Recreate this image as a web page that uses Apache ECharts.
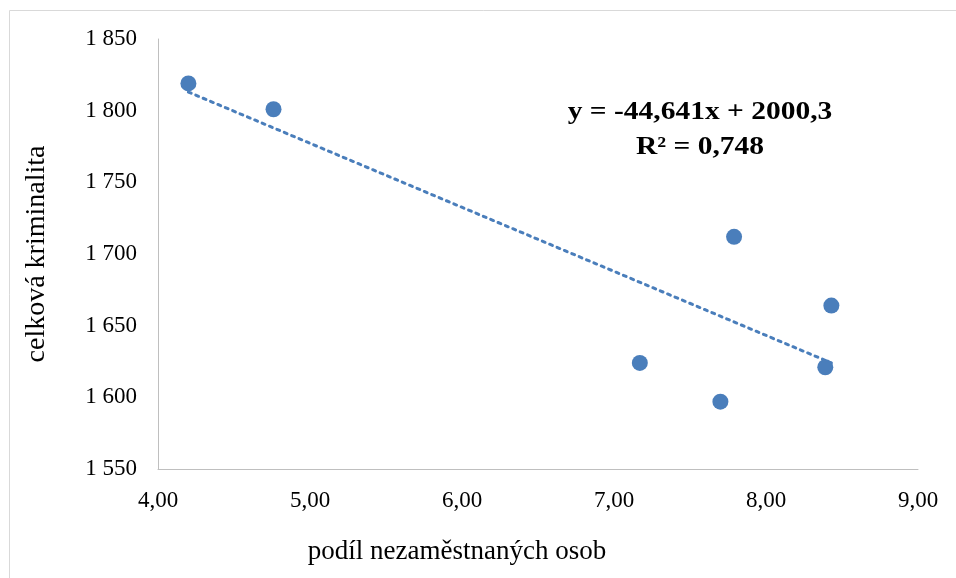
<!DOCTYPE html>
<html><head><meta charset="utf-8">
<script src="https://cdn.jsdelivr.net/npm/echarts@6/dist/echarts.min.js"></script>
<style>html,body{margin:0;padding:0;background:#fff}#c{width:956px;height:578px}</style>
</head><body><div id="c"></div>
<script>
const unemployment = [4.20, 4.76, 7.79, 8.43, 7.17, 8.39, 7.70];
const crime = [1819, 1801, 1712, 1664, 1624, 1621, 1597];
const trendX = [4.20, 8.43];
const trendY = [1813, 1624];
const xTicks = [4, 5, 6, 7, 8, 9];
const yTicks = [1550, 1600, 1650, 1700, 1750, 1800, 1850];
const equationText = 'y = -44,641x + 2000,3';
const r2Text = 'R² = 0,748';
const xTitle = 'podíl nezaměstnaných osob';
const yTitle = 'celková kriminalita';

const font = 'Liberation Serif, Times New Roman, serif';
const chart = echarts.init(document.getElementById('c'));
const pts = unemployment.map((v, i) => [v, crime[i]]);
const trend = trendX.map((v, i) => [v, trendY[i]]);
chart.setOption({
  animation: false,
  graphic: [
    {type: 'rect', shape: {x: 9.5, y: 10.5, width: 1000, height: 700}, style: {fill: 'none', stroke: '#d9d9d9', lineWidth: 1}},
    {type: 'text', x: 700, y: 130, scaleX: 1.18, originX: 0, originY: 0,
      style: {text: equationText + '\n' + r2Text, font: 'bold 25px ' + font, fill: '#000',
        align: 'center', verticalAlign: 'middle', lineHeight: 35}}
  ],
  grid: {left: 158, right: 38, top: 39, bottom: 109, containLabel: false},
  xAxis: {
    type: 'value', min: xTicks[0], max: xTicks[xTicks.length - 1], interval: 1,
    name: xTitle, nameLocation: 'middle', nameGap: 69,
    nameTextStyle: {fontFamily: font, fontSize: 27, color: '#000', padding: [0, 162, 0, 0]},
    axisLine: {show: true, lineStyle: {color: '#bfbfbf', width: 1}},
    axisTick: {show: false},
    splitLine: {show: false},
    axisLabel: {fontFamily: font, fontSize: 23, color: '#000', margin: 20,
      formatter: v => v.toFixed(2).replace('.', ',')}
  },
  yAxis: {
    type: 'value', min: yTicks[0], max: yTicks[yTicks.length - 1], interval: 50,
    name: yTitle, nameLocation: 'middle', nameGap: 107, nameRotate: 90,
    nameTextStyle: {fontFamily: font, fontSize: 28, color: '#000'},
    axisLine: {show: true, lineStyle: {color: '#bfbfbf', width: 1}},
    axisTick: {show: false},
    splitLine: {show: false},
    axisLabel: {fontFamily: font, fontSize: 23, color: '#000', margin: 21,
      formatter: v => String(v).replace(/(\d)(\d{3})$/, '$1 $2')}
  },
  series: [
    {type: 'line', data: trend, symbol: 'none', z: 1,
      lineStyle: {color: '#4a7ebb', width: 3, type: [3, 5], cap: 'round'}},
    {type: 'scatter', data: pts, symbol: 'circle', symbolSize: 16, z: 2,
      itemStyle: {color: '#4a7ebb', opacity: 1}}
  ]
});
</script></body></html>
